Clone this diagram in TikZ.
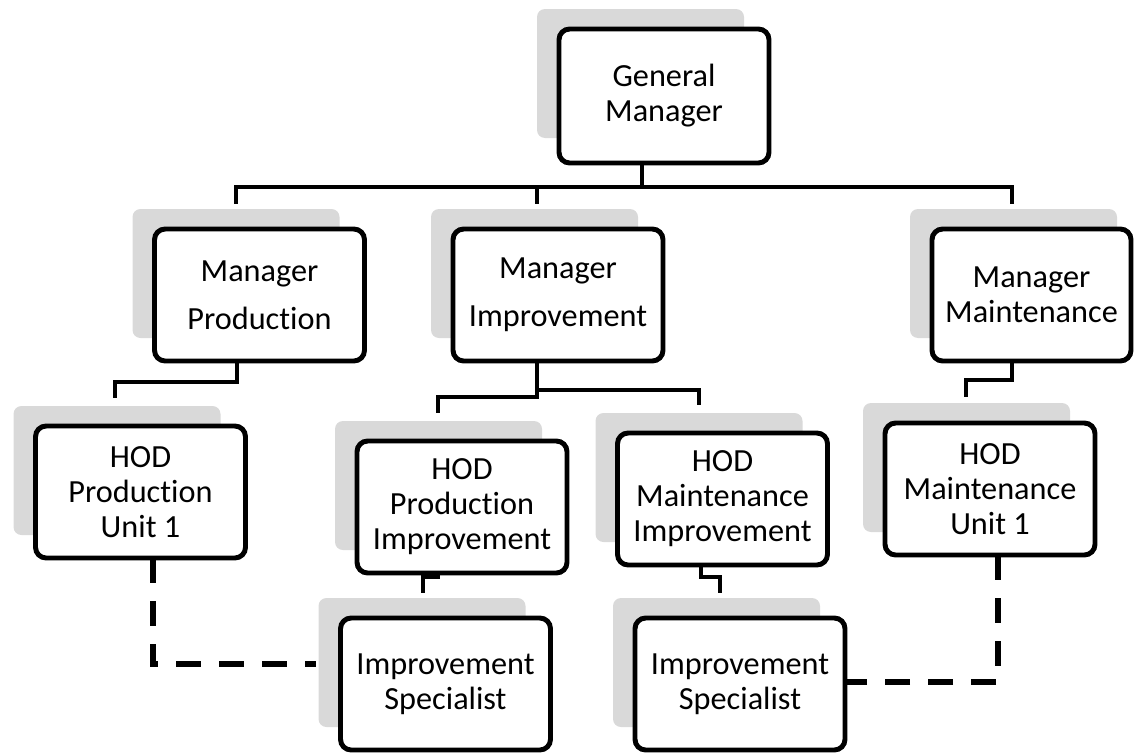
\documentclass[tikz,border=0pt]{standalone}
\usepackage{fontspec}
\setmainfont{Carlito}[Ligatures=NoCommon]
\usetikzlibrary{calc}
\pgfdeclarelayer{background}
\pgfsetlayers{background,main}
\definecolor{shadowgray}{HTML}{D9D9D9}
\begin{document}
\begin{tikzpicture}[x=0.75pt,y=-0.75pt,
  box/.style={draw=black, line width=3.7pt, fill=white, rounded corners=8pt,
    minimum width=157.5pt, minimum height=99pt, inner sep=0pt, outer sep=0pt,
    align=center, font=\fontsize{24.2}{26.25}\selectfont},
  conn/.style={line width=3.4pt},
  dconn/.style={line width=4.5pt, dash pattern=on 18.75pt off 13.5pt},
  shadowbox/.style={fill=shadowgray, rounded corners=6pt},
]
\useasboundingbox (0,0) rectangle (1135,753);

% boxes
\node[box, minimum height=100.5pt] (gm) at (664,96) {General\\Manager};
\node[box] (mp) at (259.5,295) {Manager\\[10pt]Production};
\node[box] (mi) at (558,295) {Manager\\[10pt]Improvement};
\node[box, minimum width=149.25pt] (mm) at (1031.5,295) {Manager\\Maintenance};
\node[box] (hpu) at (140.5,492) {HOD\\Production\\Unit 1};
\node[box] (hpi) at (462,507) {HOD\\Production\\Improvement};
\node[box] (hmi) at (722.5,499) {HOD\\Maintenance\\Improvement};
\node[box] (hmu) at (990,489) {HOD\\Maintenance\\Unit 1};
\node[box] (is1) at (445.5,684) {Improvement\\Specialist};
\node[box] (is2) at (740,684) {Improvement\\Specialist};

% shadows
\begin{pgfonlayer}{background}
\foreach \n in {gm,mp,mi,mm,hpu,hpi,hmi,hmu,is1,is2}{
  \fill[shadowbox] ($(\n.north west)+(-22,-20)$) rectangle ++(207,129);
}
\end{pgfonlayer}

% solid connectors
\draw[conn] ($(gm.south)+(-22,0)$) -- ++(0,24) -| ($(mp.north)+(-23.5,-25)$);
\draw[conn] ($(gm.south)+(-22,0)$) -- ++(0,24) -| ($(mi.north)+(-21,-25)$);
\draw[conn] ($(gm.south)+(-22,0)$) -- ++(0,24) -| ($(mm.north)+(-19.5,-25)$);
\draw[conn] ($(mp.south)+(-22.5,0)$) -- ++(0,21) -| ($(hpu.north)+(-25.5,-28)$);
\draw[conn] ($(mi.south)+(-21,0)$) -- ++(0,36) -| ($(hpi.north)+(-24,-28)$);
\draw[conn] ($(mi.south)+(-21,0)$) -- ++(0,29) -| ($(hmi.north)+(-23.5,-28)$);
\draw[conn] ($(mm.south)+(-19.5,0)$) -- ++(0,19) -| ($(hmu.north)+(-24,-26)$);
\draw[conn] ($(hpi.south)+(-24,0)$) -- ++(0,4) -| ($(is1.north)+(-22.5,-25)$);
\draw[conn] ($(hmi.south)+(-21.5,0)$) -- ++(0,12) -| ($(is2.north)+(-20,-25)$);

% dashed connectors
\draw[dconn] ($(hpu.south)+(12.5,0)$) |- ($(is1.west)+(-25,-20)$);
\draw[dconn] ($(hmu.south)+(8,0)$) |- ($(is2.east)+(0,-2)$);
\end{tikzpicture}
\end{document}
